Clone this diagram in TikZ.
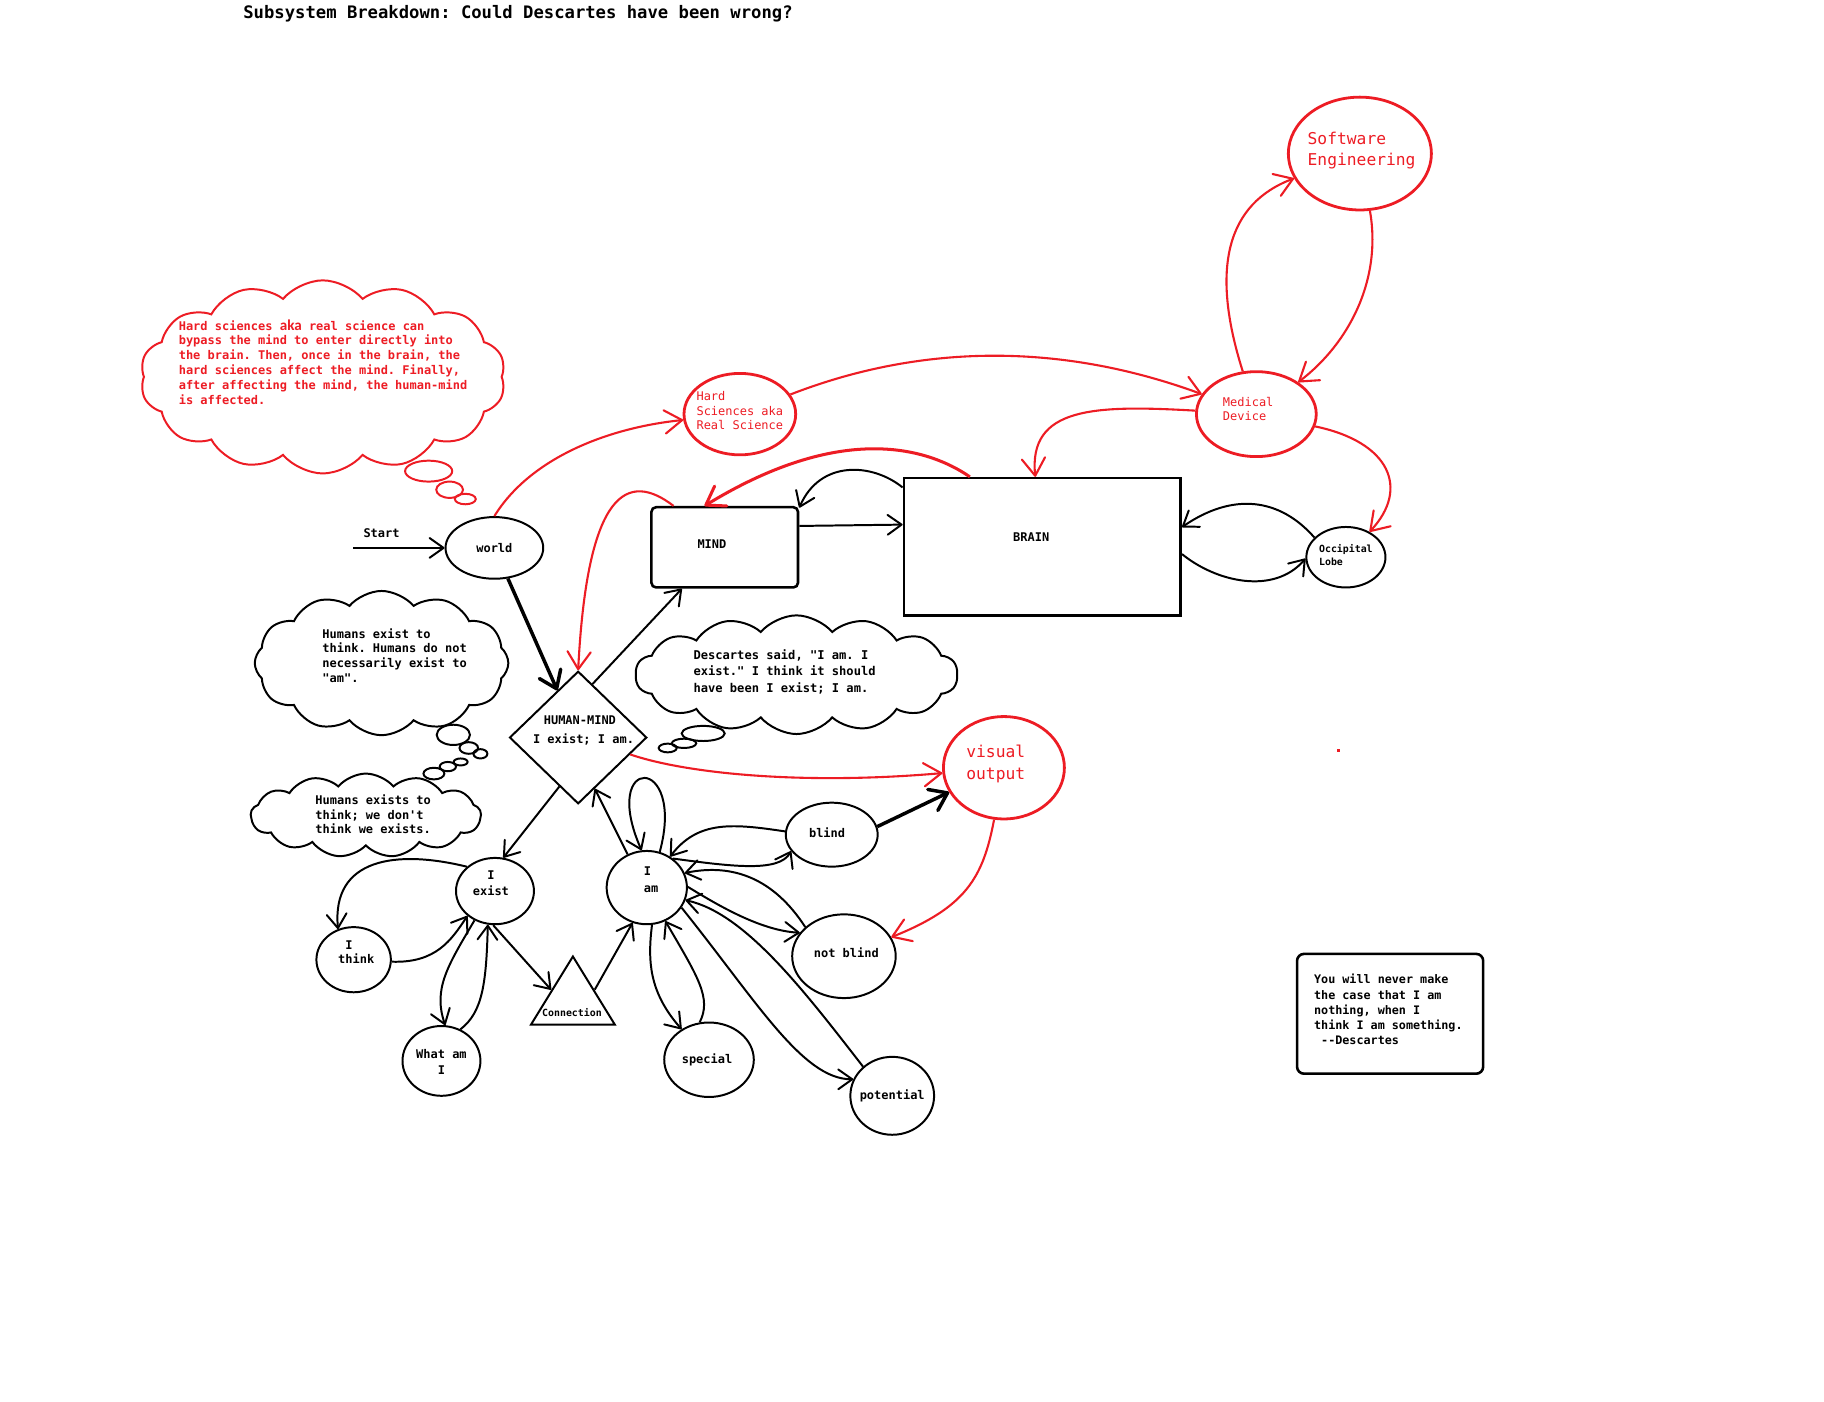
\documentclass[tikz,border=0pt]{standalone}
\usepackage{fontspec}
\setmonofont{DejaVu Sans Mono}
\newfontfamily\cali{Carlito}
\usetikzlibrary{shapes.geometric,shapes.symbols,arrows.meta}
\definecolor{pred}{RGB}{237,28,36}
\tikzset{
  bsize/.style 2 args={font=\ttfamily\bfseries\fontsize{#1}{#2}\selectfont},
  rsize/.style 2 args={font=\ttfamily\fontsize{#1}{#2}\selectfont},
  lb/.style={bsize={10.3}{12.6}, inner sep=0pt, align=center},
  lbl/.style={bsize={10.3}{12.6}, inner sep=0pt, align=left},
  rlb/.style={color=pred, rsize={10.3}{12.6}, inner sep=0pt, align=left},
  bigr/.style={color=pred, rsize={14}{18.5}, inner sep=0pt, align=left},
  el/.style={draw, ellipse, line width=1.7pt, inner sep=0pt},
  rel/.style={draw=pred, ellipse, line width=2.4pt, inner sep=0pt},
  arr/.style={line width=1.7pt, -{Straight Barb[length=12pt,width=17pt,round]}},
  thk/.style={line width=3pt, -{Straight Barb[length=14pt,width=20pt,round]}},
  rarr/.style={color=pred, line width=1.8pt, -{Straight Barb[length=15pt,width=20pt,round]}},
  cl/.style={draw, cloud, cloud puffs=#1, cloud puff arc=100, cloud ignores aspect, line width=1.7pt, inner sep=0pt},
  bub/.style={draw, ellipse, line width=1.7pt, inner sep=0pt},
}
\begin{document}
\begin{tikzpicture}[x=1pt,y=-1pt]
\path[fill=white, use as bounding box] (0,0) rectangle (1568,1205);

% title
\node[anchor=west, inner sep=0pt, bsize={14.8}{18}] (title) at (209,12) {Subsystem Breakdown: Could Descartes have been wrong?};

% clouds
\node[cl=14, draw=pred, shape border rotate=13, minimum width=314pt, minimum height=166pt] (cloudA) at (277.5,324) {};
\node[cl=12, minimum width=218pt, minimum height=124pt] (cloudB) at (328,570) {};
\node[cl=13, minimum width=198pt, minimum height=72pt] (cloudC) at (314.5,701) {};
\node[cl=14, minimum width=277pt, minimum height=102pt] (cloudD) at (684.7,580) {};

% bubbles
\node[bub, draw=pred, minimum width=40.5pt, minimum height=18pt] (ba1) at (368.5,405) {};
\node[bub, draw=pred, minimum width=23pt, minimum height=14pt] (ba2) at (386.5,421) {};
\node[bub, draw=pred, minimum width=18pt, minimum height=9pt] (ba3) at (400,429) {};
\node[bub, minimum width=28.6pt, minimum height=17.4pt] (bb1) at (389.7,631.7) {};
\node[bub, minimum width=16pt, minimum height=10pt] (bb2) at (403,643) {};
\node[bub, minimum width=12pt, minimum height=8pt] (bb3) at (413,648) {};
\node[bub, minimum width=18pt, minimum height=10pt] (bc1) at (373,665) {};
\node[bub, minimum width=14pt, minimum height=8pt] (bc2) at (385,659) {};
\node[bub, minimum width=12pt, minimum height=6pt] (bc3) at (396,655) {};
\node[bub, minimum width=37pt, minimum height=13pt] (bd1) at (604.5,630.5) {};
\node[bub, minimum width=21pt, minimum height=8pt] (bd2) at (588,639) {};
\node[bub, minimum width=15.5pt, minimum height=7.5pt] (bd3) at (574,643) {};

% cloud texts
\node[lbl, color=pred, bsize={10.3}{12.7}, anchor=north west] (tA) at (153.5,274.5) {Hard sciences {\cali\fontsize{13}{12.7}\selectfont aka} real science can\\bypass the mind to enter directly into\\the brain. Then, once in the brain, the\\hard sciences affect the mind. Finally,\\after affecting the mind, the human-mind\\is affected.};
\node[lbl, anchor=north west] (tB) at (277,540) {Humans exist to\\think. Humans do not\\necessarily exist to\\"am".};
\node[lbl, anchor=north west] (tC) at (271,683) {Humans exists to\\think; we don't\\think we exists.};
\node[lbl, bsize={10.4}{14.3}, anchor=north west] (tD) at (596,558) {Descartes said, "I am. I\\exist." I think it should\\have been I exist; I am.};

% red nodes
\node[rel, minimum width=96pt, minimum height=70pt, label={[rlb, yshift=3pt]center:Hard\\Sciences aka\\Real Science}] (hs) at (636,356) {};
\node[rel, minimum width=103pt, minimum height=73pt, label={[rlb, xshift=-7pt, yshift=4.5pt]center:Medical\\Device}] (md) at (1080,356) {};
\node[rel, minimum width=123pt, minimum height=97pt, label={[bigr, xshift=1.5pt, yshift=2.5pt]center:Software\\Engineering}] (se) at (1169,132) {};
\node[rel, minimum width=104pt, minimum height=88pt, label={[bigr, xshift=-7pt, yshift=3.3pt]center:visual\\output}] (vo) at (863,660) {};

% black nodes
\node[lb] (starttxt) at (328,458.5) {Start};
\coordinate (start) at (303.5,471);
\node[el, minimum width=84pt, minimum height=53pt, label={[lb]center:world}] (world) at (425,471) {};
\node[draw, rectangle, rounded corners=4pt, line width=2.2pt, minimum width=126pt, minimum height=69pt, inner sep=0pt, label={[lb, xshift=-11pt, yshift=2.5pt]center:MIND}] (mind) at (623,470.5) {};
\node[draw, rectangle, line width=2.2pt, minimum width=238pt, minimum height=118pt, inner sep=0pt, label={[lb, xshift=-9.5pt, yshift=8pt]center:BRAIN}] (brain) at (896,470) {};
\node[el, minimum width=68pt, minimum height=52pt, label={[lbl, bsize={8.5}{10.9}, yshift=2pt]center:Occipital\\Lobe}] (occ) at (1157,479) {};
\node[draw, diamond, line width=1.7pt, minimum width=118pt, minimum height=114pt, inner sep=0pt, label={[lb, bsize={10.3}{16}, xshift=1.5pt, yshift=6pt]center:HUMAN-MIND\\\hphantom{I}I exist; I am.}] (hm) at (497,634) {};
\node[el, minimum width=67pt, minimum height=57pt, label={[lb, bsize={10.3}{14}, xshift=-3.5pt, yshift=7pt]center:I\\exist}] (iexist) at (425.5,766) {};
\node[el, minimum width=69pt, minimum height=63pt, label={[lbl, bsize={10.3}{14.3}, xshift=3.8pt, yshift=7pt]center:I\\am}] (iam) at (556,763) {};
\node[el, minimum width=64pt, minimum height=56pt, label={[lbl, bsize={10.3}{12.4}, xshift=2.2pt, yshift=6.5pt]center:\hphantom{I}I\\think}] (ithink) at (304,825) {};
\node[el, minimum width=67pt, minimum height=60pt, label={[lb, bsize={10.3}{14}, yshift=-1pt]center:What am\\I}] (whatami) at (379.5,912) {};
\node[draw, isosceles triangle, isosceles triangle stretches, shape border rotate=90, line width=1.7pt, minimum width=72pt, minimum height=58.5pt, inner sep=0pt, anchor=apex] (conn) at (492.5,820) {};
\node[lb, bsize={8.5}{10}] (conntxt) at (491.7,870.2) {Connection};
\node[el, minimum width=79pt, minimum height=55pt, label={[lb, xshift=-4pt, yshift=1.7pt]center:blind}] (blind) at (715,717.5) {};
\node[el, minimum width=89pt, minimum height=72pt, label={[lb, xshift=2pt, yshift=3.4pt]center:not blind}] (notblind) at (725.5,822) {};
\node[el, minimum width=77pt, minimum height=64pt, label={[lb, xshift=-1.7pt]center:special}] (special) at (609.5,911) {};
\node[el, minimum width=72pt, minimum height=67pt, label={[lb]center:potential}] (potential) at (767,942) {};
\node[draw, rectangle, rounded corners=6pt, line width=2.2pt, minimum width=160pt, minimum height=103pt, inner sep=0pt, label={[lbl, bsize={10.1}{13.1}, xshift=-1.5pt, yshift=3.5pt]center:You will never make\\the case that I am\\nothing, when I\\think I am something.\\\hphantom{-}-{}-Descartes}] (quote) at (1195,871.5) {};

\fill[pred] (1149,644) rectangle (1151.5,646.5);

% black connectors
\draw[arr] (start) -- (world);
\draw[thk] (world) -- (hm);
\draw[arr] (hm.75) -- (mind.224);
\draw[arr] (mind.16) -- (brain.171);
\draw[arr] (brain.157) .. controls (750,398) and (705,395) .. (mind.28);
\draw[arr] (occ.148) .. controls (1100,428) and (1060,423) .. (brain.8);
\draw[arr] (brain.357) .. controls (1045,500) and (1095,512) .. (occ.182);
\draw[arr] (hm.249) -- (iexist.76);
\draw[arr] (iam.120) -- (hm.288);
\draw[arr] (iam.70) .. controls (590,648) and (515,648) .. (iam.98);
\draw[arr] (iexist.139) .. controls (340,730) and (285,738) .. (ithink.117);
\draw[arr] (ithink.357) .. controls (375,828) and (388,808) .. (iexist.222);
\draw[arr] (iexist.235) .. controls (385,830) and (372,850) .. (whatami.84);
\draw[arr] (whatami.59) .. controls (415,870) and (418,845) .. (iexist.258);
\draw[arr] (iexist.267) -- (conn.left side);
\draw[arr] (conn.right side) -- (iam.248);
\draw[arr] (blind.176) .. controls (630,708) and (600,705) .. (iam.53);
\draw[arr] (iam.48) .. controls (630,745) and (670,750) .. (blind.202);
\draw[arr] (notblind.143) .. controls (665,755) and (630,742) .. (iam.21);
\draw[arr] (iam.1) .. controls (620,780) and (655,800) .. (notblind.152);
\draw[arr] (iam.278) .. controls (556,830) and (560,855) .. (special.132);
\draw[arr] (special.104) .. controls (612,858) and (600,840) .. (iam.299);
\draw[arr] (iam.330) .. controls (650,860) and (690,928) .. (potential.157);
\draw[arr] (potential.135) .. controls (690,850) and (640,785) .. (iam.342);
\draw[thk] (blind.10) -- (vo.204);

% red connectors
\draw[rarr] (world.north) .. controls (455,395) and (520,368) .. (hs);
\draw[rarr] (hs) .. controls (780,300) and (900,290) .. (md);
\draw[rarr] (md) .. controls (1040,230) and (1055,175) .. (se);
\draw[rarr] (se) .. controls (1188,240) and (1160,295) .. (md);
\draw[rarr] (md) .. controls (940,348) and (884,350) .. (brain);
\draw[rarr] (md) .. controls (1195,380) and (1212,420) .. (occ);
\draw[rarr, line width=2.6pt] (brain.136) .. controls (790,380) and (715,368) .. (mind.116);
\draw[rarr] (mind.141) .. controls (540,405) and (505,420) .. (hm.north);
\draw[rarr] (hm.342) .. controls (590,665) and (690,675) .. (vo);
\draw[rarr] (vo) .. controls (845,755) and (830,780) .. (notblind);
\end{tikzpicture}
\end{document}
